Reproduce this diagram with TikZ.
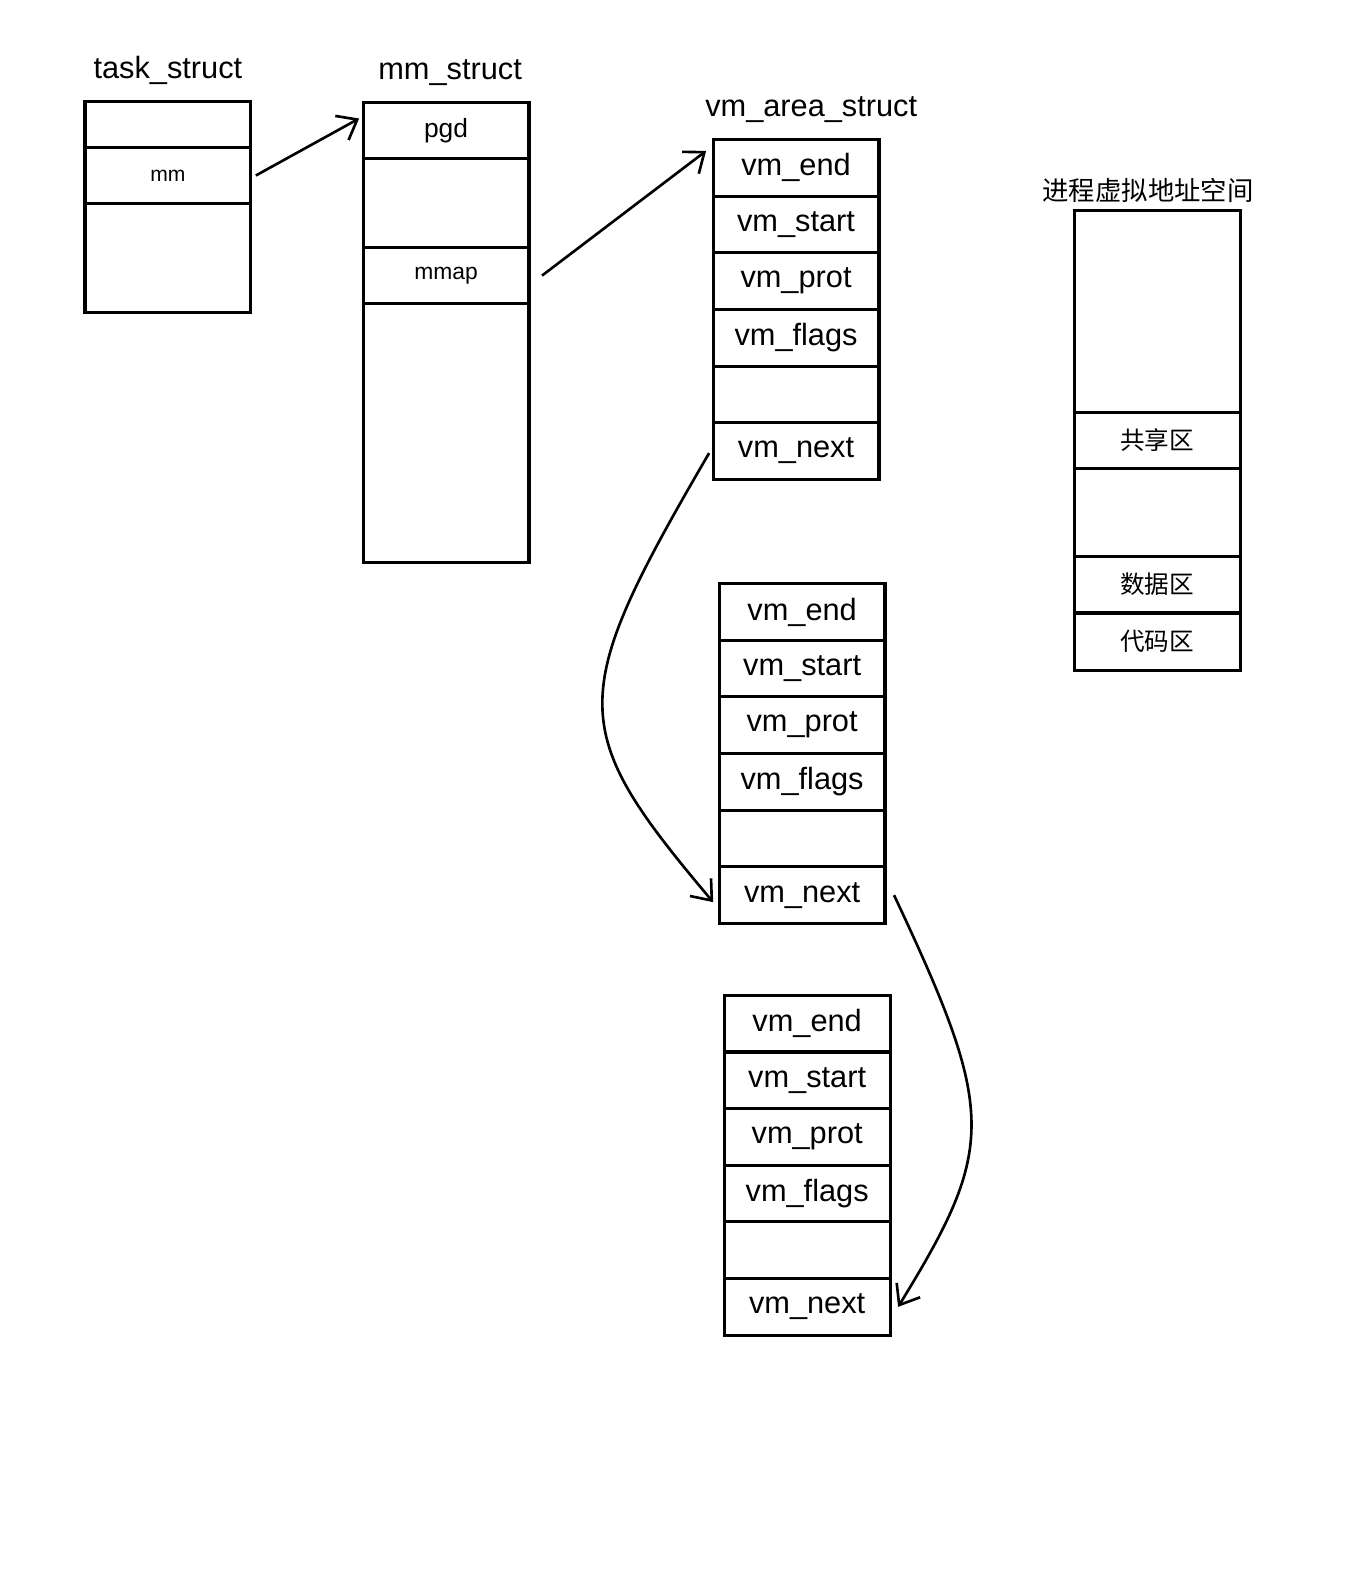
\documentclass[tikz,border=0pt]{standalone}
\usepackage{fontspec}
\setmainfont{Liberation Sans}
\newfontfamily\cjk{Noto Sans CJK SC}
\usetikzlibrary{positioning,arrows.meta}

\begin{document}
\begin{tikzpicture}[x=0.02023cm, y=-0.02023cm, line width=1.8pt,
  field/.style={rectangle, draw, minimum width=3.318cm, minimum height=1.133cm, outer sep=0pt, inner sep=0pt, font=\fontsize{17.5}{20}\selectfont},
  title/.style={font=\fontsize{17.5}{20}\selectfont},
  ptr/.style={-{Straight Barb[length=3.5mm, width=5.5mm]}, line width=1.5pt}]

  \useasboundingbox (0,0) rectangle (1349.5,1568);

  % task_struct
  \node[title] (tasklbl) at (166,70) {task\_struct};
  \node[field, minimum height=0.931cm] (t1) at (166,123) {};
  \node[field, minimum height=1.113cm, below=0pt of t1, font=\fontsize{12}{14}\selectfont] (tmm) {mm};
  \node[field, minimum height=2.185cm, below=0pt of tmm] (t3) {};

  % mm_struct
  \node[title] (mmlbl) at (445,72) {mm\_struct};
  \node[field, font=\fontsize{15}{18}\selectfont] (pgd) at (441,129) {pgd};
  \node[field, minimum height=1.78cm, below=0pt of pgd] (m2) {};
  \node[field, minimum height=1.113cm, below=0pt of m2, font=\fontsize{13}{16}\selectfont] (mmap) {mmap};
  \node[field, minimum height=5.179cm, below=0pt of mmap] (m4) {};

  % vm_area_struct chain
  \node[title] (vmalbl) at (802,108) {vm\_area\_struct};
  \foreach \v/\x/\y in {a/787/166, b/793/605, c/798/1012} {
    \node[field] (\v end) at (\x,\y) {vm\_end};
    \node[field, below=0pt of \v end] (\v start) {vm\_start};
    \node[field, below=0pt of \v start] (\v prot) {vm\_prot};
    \node[field, below=0pt of \v prot] (\v flags) {vm\_flags};
    \node[field, below=0pt of \v flags] (\v gap) {};
    \node[field, below=0pt of \v gap] (\v next) {vm\_next};
  }

  % 进程虚拟地址空间
  \node[title, font=\cjk\fontsize{15}{18}\selectfont] (aslbl) at (1135,188) {进程虚拟地址空间};
  \node[field, minimum height=4.046cm] (s1) at (1144,308) {};
  \node[field, minimum height=1.113cm, below=0pt of s1, font=\cjk\fontsize{14}{17}\selectfont] (shared) {共享区};
  \node[field, minimum height=1.76cm, below=0pt of shared] (s3) {};
  \node[field, below=0pt of s3, font=\cjk\fontsize{14}{17}\selectfont] (data) {数据区};
  \node[field, minimum height=1.153cm, below=0pt of data, font=\cjk\fontsize{14}{17}\selectfont] (code) {代码区};

  % pointers
  \draw[ptr] ([xshift=0.1cm]tmm.east) -- ([xshift=-0.08cm, yshift=0.24cm]pgd.west);
  \draw[ptr] ([xshift=0.26cm]mmap.east) -- ([xshift=-0.14cm, yshift=0.34cm]aend.west);
  \draw[ptr] ([xshift=-0.08cm, yshift=-0.04cm]anext.west) .. controls (560,690) and (560,720) .. ([xshift=-0.12cm, yshift=-0.14cm]bnext.west);
  \draw[ptr] ([xshift=0.18cm]bnext.east) .. controls (985,1100) and (985,1134) .. ([xshift=0.16cm]cnext.east);
\end{tikzpicture}
\end{document}
